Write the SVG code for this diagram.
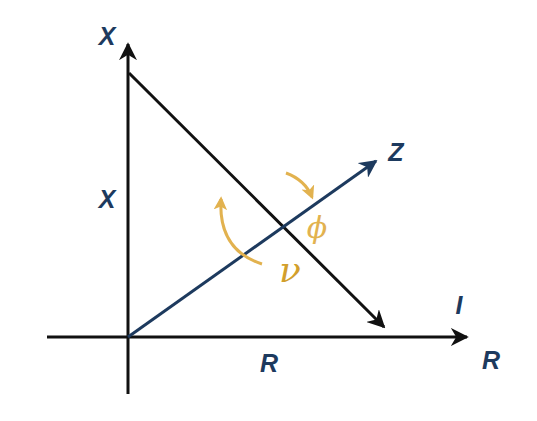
<svg xmlns="http://www.w3.org/2000/svg" width="537" height="421" viewBox="0 0 537 421">
<defs>
<style>
.ax{stroke:#111;stroke-width:3;fill:none}
.zl{stroke:#1d3a5e;stroke-width:3;fill:none}
.arc{stroke:#e2b24f;stroke-width:3;fill:none}
.lbl{font-family:"Liberation Sans",Arial,sans-serif;font-weight:bold;font-style:italic;font-size:25px;fill:#1d3a5e;text-anchor:middle}
.gk{font-family:"DejaVu Serif","Liberation Serif",serif;font-style:italic;font-size:30px;fill:#e2b24f;text-anchor:middle}
.nu{fill:#d29f2c;font-size:36px}
</style>
<marker id="ab" viewBox="0 0 10 10" refX="9" refY="5" markerWidth="6" markerHeight="6" markerUnits="strokeWidth" orient="auto"><path d="M0,0 L10,5 L0,10 L3,5 Z" fill="#111"/></marker>
<marker id="az" viewBox="0 0 10 10" refX="9" refY="5" markerWidth="6" markerHeight="6" markerUnits="strokeWidth" orient="auto"><path d="M0,0 L10,5 L0,10 L3,5 Z" fill="#1d3a5e"/></marker>
<marker id="ag" viewBox="0 0 10 10" refX="8" refY="5" markerWidth="4.5" markerHeight="4.5" markerUnits="strokeWidth" orient="auto"><path d="M0,0 L10,5 L0,10 L2.5,5 Z" fill="#e2b24f"/></marker>
</defs>
<rect width="537" height="421" fill="#fff"/>
<g id="connectors">
<line class="ax" x1="47" y1="337" x2="467" y2="337" marker-end="url(#ab)"/>
<line class="ax" x1="128" y1="394" x2="128" y2="44" marker-end="url(#ab)"/>
<line class="ax" x1="129" y1="73" x2="384" y2="327" marker-end="url(#ab)"/>
<line class="zl" x1="128" y1="337" x2="376" y2="161" marker-end="url(#az)"/>
<path class="arc" d="M286,173 Q305,180 312,197" marker-end="url(#ag)"/>
<path class="arc" d="M262,264 Q218,250 221,199" marker-end="url(#ag)"/>
</g>
<g id="labels">
<text class="lbl" x="107" y="45">X</text>
<text class="lbl" x="107" y="208">X</text>
<text class="lbl" x="396" y="161">Z</text>
<text class="lbl" x="459" y="314">I</text>
<text class="lbl" x="491" y="369">R</text>
<text class="lbl" x="269" y="372">R</text>
<text class="gk" x="317" y="238">ϕ</text>
<text class="gk nu" x="290" y="282">ν</text>
</g>
</svg>
